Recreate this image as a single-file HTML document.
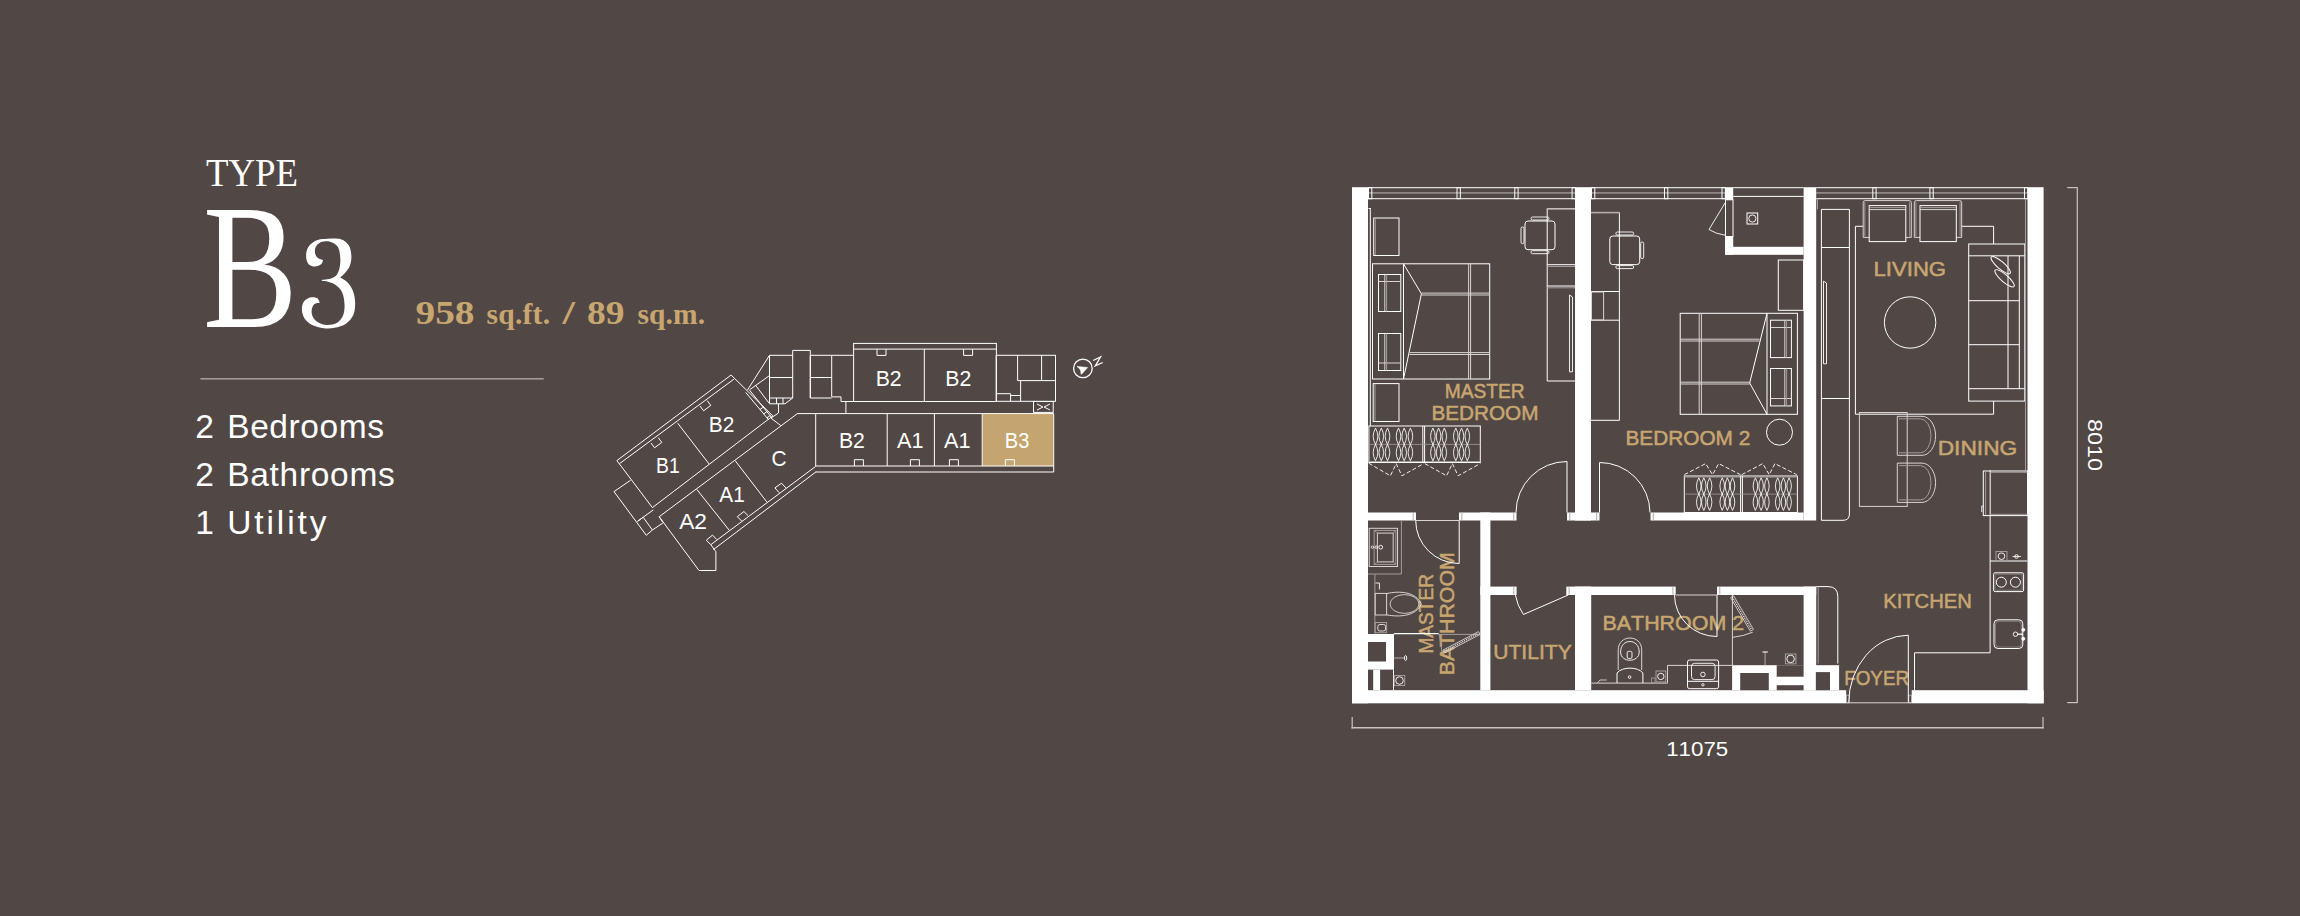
<!DOCTYPE html>
<html><head><meta charset="utf-8"><title>Type B3</title>
<style>
html,body{margin:0;padding:0;background:#514846;width:2300px;height:916px;overflow:hidden;font-family:"Liberation Sans",sans-serif;}
svg{display:block;}
text{font-kerning:none;}
</style></head>
<body>
<svg width="2300" height="916" viewBox="0 0 2300 916">
<rect x="0" y="0" width="2300" height="916" fill="#514846"/>
<text x="206.00" y="185.90" font-family="Liberation Serif" font-size="40.60" font-weight="normal" fill="#ffffff" text-anchor="start" textLength="92.00" lengthAdjust="spacingAndGlyphs" >TYPE</text>
<text x="203.00" y="327.30" font-family="Liberation Serif" font-size="177.00" font-weight="normal" fill="#ffffff" text-anchor="start" textLength="94.50" lengthAdjust="spacingAndGlyphs" >B</text>
<path transform="translate(295,230) scale(0.11456)" fill="#ffffff" d="M245.00,262.00 C242.17,268.00 239.67,288.67 228.00,298.00 C216.33,307.33 193.33,318.00 175.00,318.00 C156.67,318.00 131.00,312.33 118.00,298.00 C105.00,283.67 97.50,256.67 97.00,232.00 C96.50,207.33 99.50,173.67 115.00,150.00 C130.50,126.33 161.67,102.33 190.00,90.00 C218.33,77.67 250.00,77.67 285.00,76.00 C320.00,74.33 369.17,70.17 400.00,80.00 C430.83,89.83 454.67,110.83 470.00,135.00 C485.33,159.17 490.33,195.83 492.00,225.00 C493.67,254.17 488.67,285.50 480.00,310.00 C471.33,334.50 454.17,354.50 440.00,372.00 C425.83,389.50 402.50,407.83 395.00,415.00 L395.00,415.00 C405.00,421.67 436.67,435.83 455.00,455.00 C473.33,474.17 493.33,500.83 505.00,530.00 C516.67,559.17 524.17,595.00 525.00,630.00 C525.83,665.00 523.33,708.67 510.00,740.00 C496.67,771.33 472.50,799.00 445.00,818.00 C417.50,837.00 377.50,847.50 345.00,854.00 C312.50,860.50 282.50,861.00 250.00,857.00 C217.50,853.00 178.00,844.50 150.00,830.00 C122.00,815.50 97.00,793.33 82.00,770.00 C67.00,746.67 60.33,714.67 60.00,690.00 C59.67,665.33 66.67,639.00 80.00,622.00 C93.33,605.00 120.83,592.33 140.00,588.00 C159.17,583.67 182.33,588.33 195.00,596.00 C207.67,603.67 212.50,627.67 216.00,634.00 L216.00,634.00 C208.33,635.83 181.50,635.67 170.00,645.00 C158.50,654.33 150.00,672.50 147.00,690.00 C144.00,707.50 143.17,730.83 152.00,750.00 C160.83,769.17 178.67,791.83 200.00,805.00 C221.33,818.17 252.00,828.17 280.00,829.00 C308.00,829.83 344.67,824.00 368.00,810.00 C391.33,796.00 409.33,771.67 420.00,745.00 C430.67,718.33 433.33,683.33 432.00,650.00 C430.67,616.67 425.33,573.67 412.00,545.00 C398.67,516.33 374.00,493.83 352.00,478.00 C330.00,462.17 298.67,455.33 280.00,450.00 C261.33,444.67 246.67,446.67 240.00,446.00 L234.00,440.00 C235.00,439.00 229.00,436.17 240.00,434.00 C251.00,431.83 280.83,432.33 300.00,427.00 C319.17,421.67 340.33,417.33 355.00,402.00 C369.67,386.67 381.33,362.00 388.00,335.00 C394.67,308.00 397.67,271.67 395.00,240.00 C392.33,208.33 387.00,168.00 372.00,145.00 C357.00,122.00 329.50,108.17 305.00,102.00 C280.50,95.83 245.83,100.00 225.00,108.00 C204.17,116.00 188.17,133.83 180.00,150.00 C171.83,166.17 172.67,189.17 176.00,205.00 C179.33,220.83 188.50,235.50 200.00,245.00 C211.50,254.50 237.50,259.17 245.00,262.00 Z"/>
<text x="415.5" y="323.7" font-family="Liberation Serif" font-size="33.3" font-weight="bold" fill="#c8a670" textLength="59.0" lengthAdjust="spacingAndGlyphs">958</text>
<text x="486.5" y="323.7" font-family="Liberation Serif" font-size="29.5" font-weight="bold" fill="#c8a670" textLength="63.5" lengthAdjust="spacing">sq.ft.</text>
<text x="562.5" y="323.7" font-family="Liberation Serif" font-size="33.3" font-weight="bold" fill="#c8a670" textLength="12.5" lengthAdjust="spacingAndGlyphs">/</text>
<text x="587.0" y="323.7" font-family="Liberation Serif" font-size="33.3" font-weight="bold" fill="#c8a670" textLength="37.5" lengthAdjust="spacingAndGlyphs">89</text>
<text x="637.5" y="323.7" font-family="Liberation Serif" font-size="29.5" font-weight="bold" fill="#c8a670" textLength="67.5" lengthAdjust="spacing">sq.m.</text>
<rect x="200.40" y="378.00" width="343.30" height="1.60" fill="#a29b99" />
<text x="195.2" y="438.4" font-family="Liberation Sans" font-size="33.5" fill="#fff">2</text>
<text x="227.2" y="438.4" font-family="Liberation Sans" font-size="33.5" fill="#fff" textLength="156.8" lengthAdjust="spacing">Bedrooms</text>
<text x="195.2" y="486.3" font-family="Liberation Sans" font-size="33.5" fill="#fff">2</text>
<text x="227.2" y="486.3" font-family="Liberation Sans" font-size="33.5" fill="#fff" textLength="167.6" lengthAdjust="spacing">Bathrooms</text>
<text x="195.2" y="534" font-family="Liberation Sans" font-size="33.5" fill="#fff">1</text>
<text x="227.2" y="534" font-family="Liberation Sans" font-size="33.5" fill="#fff" textLength="99.3" lengthAdjust="spacing">Utility</text>
<rect x="982.30" y="413.60" width="71.00" height="52.50" fill="#c4a46f" />
<rect x="853.60" y="343.40" width="142.80" height="58.10" fill="none" stroke="#ffffff" stroke-width="1" />
<line x1="853.60" y1="349.10" x2="996.40" y2="349.10" stroke="#ffffff" stroke-width="1" />
<line x1="924.30" y1="349.10" x2="924.30" y2="401.50" stroke="#ffffff" stroke-width="1" />
<polyline points="877.00,349.10 877.00,355.40 886.00,355.40 886.00,349.10" fill="none" stroke="#ffffff" stroke-width="1" />
<polyline points="963.60,349.10 963.60,355.40 972.60,355.40 972.60,349.10" fill="none" stroke="#ffffff" stroke-width="1" />
<polyline points="853.60,355.30 831.70,355.30 831.70,396.90 841.00,396.90 841.00,401.50 853.60,401.50" fill="none" stroke="#ffffff" stroke-width="1" />
<polyline points="831.70,355.30 810.30,355.30 810.30,398.00 831.70,398.00" fill="none" stroke="#ffffff" stroke-width="1" />
<line x1="810.30" y1="377.50" x2="831.70" y2="377.50" stroke="#ffffff" stroke-width="1" />
<polyline points="810.30,398.00 810.30,350.40 792.70,350.40 792.70,398.00" fill="none" stroke="#ffffff" stroke-width="1" />
<polyline points="792.70,355.30 769.50,355.30 769.50,403.80 785.00,403.80 792.70,398.00" fill="none" stroke="#ffffff" stroke-width="1" />
<line x1="769.50" y1="377.50" x2="792.70" y2="377.50" stroke="#ffffff" stroke-width="1" />
<line x1="769.50" y1="398.00" x2="792.70" y2="398.00" stroke="#ffffff" stroke-width="1" />
<line x1="776.50" y1="398.00" x2="776.50" y2="403.80" stroke="#ffffff" stroke-width="1" />
<line x1="783.00" y1="398.00" x2="783.00" y2="403.80" stroke="#ffffff" stroke-width="1" />
<line x1="845.90" y1="401.50" x2="845.90" y2="413.40" stroke="#ffffff" stroke-width="1" />
<line x1="778.50" y1="403.80" x2="778.50" y2="413.00" stroke="#ffffff" stroke-width="1" />
<line x1="778.50" y1="413.00" x2="771.00" y2="418.00" stroke="#ffffff" stroke-width="1" />
<line x1="769.50" y1="355.30" x2="747.50" y2="390.00" stroke="#ffffff" stroke-width="1" />
<line x1="769.70" y1="375.40" x2="749.60" y2="389.80" stroke="#ffffff" stroke-width="1" />
<rect x="996.20" y="355.30" width="59.30" height="46.00" fill="none" stroke="#ffffff" stroke-width="1" />
<line x1="1017.60" y1="355.30" x2="1017.60" y2="380.60" stroke="#ffffff" stroke-width="1" />
<line x1="1041.60" y1="355.30" x2="1041.60" y2="380.60" stroke="#ffffff" stroke-width="1" />
<line x1="1017.60" y1="380.60" x2="1055.50" y2="380.60" stroke="#ffffff" stroke-width="1" />
<line x1="1020.60" y1="380.60" x2="1020.60" y2="401.30" stroke="#ffffff" stroke-width="1" />
<polyline points="996.20,393.70 1010.60,393.70 1010.60,401.30" fill="none" stroke="#ffffff" stroke-width="1" />
<polyline points="1010.60,395.50 1020.60,395.50" fill="none" stroke="#ffffff" stroke-width="1" />
<rect x="1033.50" y="401.50" width="19.70" height="10.90" fill="none" stroke="#ffffff" stroke-width="1" />
<line x1="1037.00" y1="404.00" x2="1043.00" y2="407.00" stroke="#ffffff" stroke-width="1" />
<line x1="1037.00" y1="410.00" x2="1043.00" y2="407.00" stroke="#ffffff" stroke-width="1" />
<line x1="1050.00" y1="404.00" x2="1044.00" y2="407.00" stroke="#ffffff" stroke-width="1" />
<line x1="1050.00" y1="410.00" x2="1044.00" y2="407.00" stroke="#ffffff" stroke-width="1" />
<line x1="797.10" y1="413.60" x2="1053.70" y2="413.60" stroke="#ffffff" stroke-width="1" />
<line x1="815.70" y1="413.60" x2="815.70" y2="466.00" stroke="#ffffff" stroke-width="1" />
<line x1="815.70" y1="466.00" x2="1053.70" y2="466.00" stroke="#ffffff" stroke-width="1" />
<line x1="1053.70" y1="413.60" x2="1053.70" y2="472.00" stroke="#ffffff" stroke-width="1" />
<line x1="815.70" y1="472.00" x2="1053.70" y2="472.00" stroke="#ffffff" stroke-width="1" />
<line x1="887.20" y1="413.60" x2="887.20" y2="466.00" stroke="#ffffff" stroke-width="1" />
<line x1="934.40" y1="413.60" x2="934.40" y2="466.00" stroke="#ffffff" stroke-width="1" />
<line x1="982.20" y1="413.60" x2="982.20" y2="466.00" stroke="#ffffff" stroke-width="1" />
<polyline points="854.40,466.00 854.40,459.70 863.40,459.70 863.40,466.00" fill="none" stroke="#ffffff" stroke-width="1" />
<polyline points="910.40,466.00 910.40,459.70 919.40,459.70 919.40,466.00" fill="none" stroke="#ffffff" stroke-width="1" />
<polyline points="949.40,466.00 949.40,459.70 958.40,459.70 958.40,466.00" fill="none" stroke="#ffffff" stroke-width="1" />
<polyline points="1005.40,466.00 1005.40,459.70 1014.40,459.70 1014.40,466.00" fill="none" stroke="#ffffff" stroke-width="1" />
<polyline points="652.40,507.60 616.90,460.60 731.10,375.00 772.80,415.90" fill="none" stroke="#ffffff" stroke-width="1" />
<line x1="619.60" y1="463.60" x2="733.90" y2="379.20" stroke="#ffffff" stroke-width="1" />
<line x1="652.40" y1="507.60" x2="772.80" y2="415.90" stroke="#ffffff" stroke-width="1" />
<line x1="677.70" y1="423.20" x2="709.10" y2="464.00" stroke="#ffffff" stroke-width="1" />
<polyline points="651.00,443.00 654.60,447.80 661.80,442.40 658.20,437.60" fill="none" stroke="#ffffff" stroke-width="1" />
<polyline points="700.00,406.00 703.60,410.80 710.80,405.40 707.20,400.60" fill="none" stroke="#ffffff" stroke-width="1" />
<line x1="659.20" y1="516.70" x2="797.30" y2="413.70" stroke="#ffffff" stroke-width="1" />
<line x1="713.50" y1="549.50" x2="816.20" y2="471.70" stroke="#ffffff" stroke-width="1" />
<line x1="710.80" y1="544.70" x2="815.70" y2="466.40" stroke="#ffffff" stroke-width="1" />
<line x1="696.80" y1="489.40" x2="729.20" y2="530.20" stroke="#ffffff" stroke-width="1" />
<line x1="735.10" y1="460.60" x2="766.80" y2="501.90" stroke="#ffffff" stroke-width="1" />
<polyline points="710.80,544.70 706.30,540.20 712.50,535.10 716.70,539.50" fill="none" stroke="#ffffff" stroke-width="1" />
<polyline points="741.70,521.10 737.30,516.70 743.90,511.50 748.30,515.90" fill="none" stroke="#ffffff" stroke-width="1" />
<polyline points="779.30,492.80 774.90,487.90 781.50,483.20 785.90,487.90" fill="none" stroke="#ffffff" stroke-width="1" />
<polyline points="659.20,516.70 699.00,570.50 715.90,570.50 715.90,551.70 710.80,544.70" fill="none" stroke="#ffffff" stroke-width="1" />
<line x1="659.20" y1="516.70" x2="662.80" y2="522.30" stroke="#ffffff" stroke-width="1" />
<polyline points="630.60,480.20 614.00,491.60 646.30,535.30 652.40,530.00" fill="none" stroke="#ffffff" stroke-width="1" />
<line x1="653.30" y1="509.90" x2="637.50" y2="521.30" stroke="#ffffff" stroke-width="1" />
<line x1="643.20" y1="517.30" x2="652.40" y2="530.00" stroke="#ffffff" stroke-width="1" />
<line x1="652.40" y1="530.00" x2="662.90" y2="523.00" stroke="#ffffff" stroke-width="1" />
<line x1="637.50" y1="521.30" x2="643.20" y2="517.30" stroke="#ffffff" stroke-width="1" />
<line x1="745.70" y1="392.40" x2="768.80" y2="420.00" stroke="#ffffff" stroke-width="1" />
<line x1="749.60" y1="390.20" x2="771.40" y2="417.30" stroke="#ffffff" stroke-width="1" />
<line x1="755.70" y1="385.40" x2="768.80" y2="402.90" stroke="#ffffff" stroke-width="1" />
<line x1="770.90" y1="418.00" x2="780.80" y2="425.60" stroke="#ffffff" stroke-width="1" />
<line x1="760.02" y1="409.51" x2="763.62" y2="406.91" stroke="#ffffff" stroke-width="1" />
<line x1="763.72" y1="413.93" x2="767.32" y2="411.33" stroke="#ffffff" stroke-width="1" />
<line x1="766.95" y1="417.79" x2="770.55" y2="415.19" stroke="#ffffff" stroke-width="1" />
<text x="875.70" y="386.00" font-family="Liberation Sans" font-size="22.09" font-weight="normal" fill="#ffffff" text-anchor="start" textLength="26.00" lengthAdjust="spacingAndGlyphs" >B2</text>
<text x="945.30" y="386.00" font-family="Liberation Sans" font-size="22.09" font-weight="normal" fill="#ffffff" text-anchor="start" textLength="26.00" lengthAdjust="spacingAndGlyphs" >B2</text>
<text x="838.90" y="447.90" font-family="Liberation Sans" font-size="22.09" font-weight="normal" fill="#ffffff" text-anchor="start" textLength="25.90" lengthAdjust="spacingAndGlyphs" >B2</text>
<text x="897.00" y="447.90" font-family="Liberation Sans" font-size="22.09" font-weight="normal" fill="#ffffff" text-anchor="start" textLength="26.50" lengthAdjust="spacingAndGlyphs" >A1</text>
<text x="944.00" y="447.90" font-family="Liberation Sans" font-size="22.09" font-weight="normal" fill="#ffffff" text-anchor="start" textLength="26.50" lengthAdjust="spacingAndGlyphs" >A1</text>
<text x="1004.80" y="448.20" font-family="Liberation Sans" font-size="22.09" font-weight="normal" fill="#ffffff" text-anchor="start" textLength="24.60" lengthAdjust="spacingAndGlyphs" >B3</text>
<text x="771.40" y="465.70" font-family="Liberation Sans" font-size="22.09" font-weight="normal" fill="#ffffff" text-anchor="start" textLength="15.10" lengthAdjust="spacingAndGlyphs" >C</text>
<text x="708.70" y="432.40" font-family="Liberation Sans" font-size="22.09" font-weight="normal" fill="#ffffff" text-anchor="start" textLength="25.60" lengthAdjust="spacingAndGlyphs" >B2</text>
<text x="656.00" y="472.50" font-family="Liberation Sans" font-size="22.09" font-weight="normal" fill="#ffffff" text-anchor="start" textLength="23.70" lengthAdjust="spacingAndGlyphs" >B1</text>
<text x="719.30" y="502.00" font-family="Liberation Sans" font-size="22.09" font-weight="normal" fill="#ffffff" text-anchor="start" textLength="25.40" lengthAdjust="spacingAndGlyphs" >A1</text>
<text x="679.20" y="528.70" font-family="Liberation Sans" font-size="22.09" font-weight="normal" fill="#ffffff" text-anchor="start" textLength="27.80" lengthAdjust="spacingAndGlyphs" >A2</text>
<circle cx="1082.90" cy="368.40" r="9.30" fill="none" stroke="#ffffff" stroke-width="1.3"/>
<polygon points="1077.00,366.40 1087.60,367.60 1081.30,374.40 1080.30,369.60" fill="#ffffff" stroke="#ffffff" stroke-width="0.6" />
<polyline points="1093.10,360.50 1100.50,357.00 1095.30,365.80 1102.70,362.50" fill="none" stroke="#ffffff" stroke-width="1.3" />
<line x1="1368.00" y1="187.70" x2="1575.00" y2="187.70" stroke="#ffffff" stroke-width="1" />
<line x1="1368.00" y1="198.70" x2="1575.00" y2="198.70" stroke="#ffffff" stroke-width="1" />
<line x1="1368.00" y1="192.90" x2="1575.00" y2="192.90" stroke="#8f8785" stroke-width="1.6" />
<line x1="1591.00" y1="187.70" x2="1725.00" y2="187.70" stroke="#ffffff" stroke-width="1" />
<line x1="1591.00" y1="198.70" x2="1725.00" y2="198.70" stroke="#ffffff" stroke-width="1" />
<line x1="1591.00" y1="192.90" x2="1725.00" y2="192.90" stroke="#8f8785" stroke-width="1.6" />
<line x1="1816.20" y1="187.70" x2="2027.50" y2="187.70" stroke="#ffffff" stroke-width="1" />
<line x1="1816.20" y1="198.70" x2="2027.50" y2="198.70" stroke="#ffffff" stroke-width="1" />
<line x1="1816.20" y1="192.90" x2="2027.50" y2="192.90" stroke="#8f8785" stroke-width="1.6" />
<line x1="1733.20" y1="187.70" x2="1803.60" y2="187.70" stroke="#ffffff" stroke-width="1" />
<line x1="1733.20" y1="196.40" x2="1803.60" y2="196.40" stroke="#ffffff" stroke-width="1" />
<rect x="1368.50" y="187.70" width="3.30" height="11.00" fill="none" stroke="#ffffff" stroke-width="1" />
<rect x="1457.00" y="187.70" width="3.30" height="11.00" fill="none" stroke="#ffffff" stroke-width="1" />
<rect x="1514.80" y="187.70" width="3.30" height="11.00" fill="none" stroke="#ffffff" stroke-width="1" />
<rect x="1572.10" y="187.70" width="3.30" height="11.00" fill="none" stroke="#ffffff" stroke-width="1" />
<rect x="1591.50" y="187.70" width="3.30" height="11.00" fill="none" stroke="#ffffff" stroke-width="1" />
<rect x="1664.50" y="187.70" width="3.30" height="11.00" fill="none" stroke="#ffffff" stroke-width="1" />
<rect x="1722.00" y="187.70" width="3.30" height="11.00" fill="none" stroke="#ffffff" stroke-width="1" />
<rect x="1872.80" y="187.70" width="3.30" height="11.00" fill="none" stroke="#ffffff" stroke-width="1" />
<rect x="1929.90" y="187.70" width="3.30" height="11.00" fill="none" stroke="#ffffff" stroke-width="1" />
<rect x="2024.50" y="187.70" width="3.30" height="11.00" fill="none" stroke="#ffffff" stroke-width="1" />
<rect x="1352.00" y="187.20" width="16.00" height="516.10" fill="#ffffff" />
<rect x="2027.50" y="187.20" width="16.10" height="516.10" fill="#ffffff" />
<rect x="1352.00" y="690.20" width="494.20" height="13.10" fill="#ffffff" />
<rect x="1846.60" y="695.20" width="2.60" height="7.60" fill="none" stroke="#bdb6b4" stroke-width="0.8" />
<rect x="1908.80" y="695.20" width="2.60" height="7.60" fill="none" stroke="#bdb6b4" stroke-width="0.8" />
<rect x="1911.70" y="690.20" width="131.90" height="13.10" fill="#ffffff" />
<rect x="1575.00" y="187.20" width="16.00" height="333.30" fill="#ffffff" />
<rect x="1567.00" y="512.50" width="32.50" height="8.00" fill="#ffffff" />
<rect x="1803.60" y="187.20" width="12.60" height="333.30" fill="#ffffff" />
<rect x="1725.00" y="187.20" width="8.20" height="12.60" fill="#ffffff" />
<rect x="1725.00" y="236.50" width="8.20" height="18.30" fill="#ffffff" />
<rect x="1725.00" y="246.80" width="78.60" height="8.00" fill="#ffffff" />
<rect x="1368.00" y="512.50" width="48.00" height="8.00" fill="#ffffff" />
<rect x="1459.00" y="512.50" width="57.50" height="8.00" fill="#ffffff" />
<rect x="1650.50" y="512.50" width="153.10" height="8.00" fill="#ffffff" />
<rect x="1480.30" y="512.50" width="10.10" height="177.70" fill="#ffffff" />
<rect x="1480.30" y="586.60" width="36.30" height="8.40" fill="#ffffff" />
<rect x="1566.30" y="586.60" width="109.40" height="8.40" fill="#ffffff" />
<rect x="1717.00" y="586.60" width="99.20" height="8.40" fill="#ffffff" />
<rect x="1575.00" y="586.60" width="16.20" height="103.60" fill="#ffffff" />
<rect x="1803.60" y="586.60" width="12.60" height="103.60" fill="#ffffff" />
<rect x="1368.00" y="634.00" width="26.00" height="35.60" fill="#ffffff" />
<rect x="1368.00" y="642.00" width="18.00" height="19.50" fill="#514846" />
<rect x="1373.20" y="669.60" width="6.90" height="20.60" fill="#ffffff" />
<line x1="1393.50" y1="669.60" x2="1393.50" y2="690.20" stroke="#ffffff" stroke-width="1" />
<rect x="1732.10" y="665.20" width="107.00" height="25.00" fill="#ffffff" />
<rect x="1740.20" y="673.00" width="28.60" height="17.20" fill="#514846" />
<rect x="1776.70" y="665.20" width="27.50" height="11.50" fill="#514846" />
<rect x="1776.70" y="685.20" width="27.50" height="5.00" fill="#514846" />
<rect x="1815.60" y="672.10" width="14.40" height="18.10" fill="#514846" />
<rect x="1803.60" y="665.20" width="12.00" height="25.00" fill="#ffffff" />
<line x1="1413.20" y1="513.00" x2="1413.20" y2="520.00" stroke="#9c9492" stroke-width="0.8" />
<line x1="1461.80" y1="513.00" x2="1461.80" y2="520.00" stroke="#9c9492" stroke-width="0.8" />
<line x1="1513.70" y1="513.00" x2="1513.70" y2="520.00" stroke="#9c9492" stroke-width="0.8" />
<line x1="1569.80" y1="513.00" x2="1569.80" y2="520.00" stroke="#9c9492" stroke-width="0.8" />
<line x1="1596.70" y1="513.00" x2="1596.70" y2="520.00" stroke="#9c9492" stroke-width="0.8" />
<line x1="1653.30" y1="513.00" x2="1653.30" y2="520.00" stroke="#9c9492" stroke-width="0.8" />
<line x1="1513.80" y1="587.10" x2="1513.80" y2="594.50" stroke="#9c9492" stroke-width="0.8" />
<line x1="1569.10" y1="587.10" x2="1569.10" y2="594.50" stroke="#9c9492" stroke-width="0.8" />
<line x1="1672.90" y1="587.10" x2="1672.90" y2="594.50" stroke="#9c9492" stroke-width="0.8" />
<line x1="1719.80" y1="587.10" x2="1719.80" y2="594.50" stroke="#9c9492" stroke-width="0.8" />
<text x="1444.70" y="397.80" font-family="Liberation Sans" font-size="19.77" font-weight="normal" fill="#c8a670" text-anchor="start" textLength="80.00" lengthAdjust="spacingAndGlyphs" stroke="#c8a670" stroke-width="0.5">MASTER</text>
<text x="1431.40" y="420.10" font-family="Liberation Sans" font-size="19.77" font-weight="normal" fill="#c8a670" text-anchor="start" textLength="107.00" lengthAdjust="spacingAndGlyphs" stroke="#c8a670" stroke-width="0.5">BEDROOM</text>
<text x="1625.50" y="444.80" font-family="Liberation Sans" font-size="19.77" font-weight="normal" fill="#c8a670" text-anchor="start" textLength="124.70" lengthAdjust="spacingAndGlyphs" stroke="#c8a670" stroke-width="0.5">BEDROOM 2</text>
<text x="1873.50" y="276.00" font-family="Liberation Sans" font-size="19.77" font-weight="normal" fill="#c8a670" text-anchor="start" textLength="72.60" lengthAdjust="spacingAndGlyphs" stroke="#c8a670" stroke-width="0.5">LIVING</text>
<text x="1937.70" y="454.50" font-family="Liberation Sans" font-size="19.77" font-weight="normal" fill="#c8a670" text-anchor="start" textLength="79.60" lengthAdjust="spacingAndGlyphs" stroke="#c8a670" stroke-width="0.5">DINING</text>
<text x="1883.20" y="607.60" font-family="Liberation Sans" font-size="19.77" font-weight="normal" fill="#c8a670" text-anchor="start" textLength="88.70" lengthAdjust="spacingAndGlyphs" stroke="#c8a670" stroke-width="0.5">KITCHEN</text>
<text x="1844.20" y="685.00" font-family="Liberation Sans" font-size="19.77" font-weight="normal" fill="#c8a670" text-anchor="start" textLength="64.90" lengthAdjust="spacingAndGlyphs" stroke="#c8a670" stroke-width="0.5">FOYER</text>
<text x="1493.30" y="658.80" font-family="Liberation Sans" font-size="19.77" font-weight="normal" fill="#c8a670" text-anchor="start" textLength="78.40" lengthAdjust="spacingAndGlyphs" stroke="#c8a670" stroke-width="0.5">UTILITY</text>
<text x="1602.50" y="629.90" font-family="Liberation Sans" font-size="19.77" font-weight="normal" fill="#c8a670" text-anchor="start" textLength="141.60" lengthAdjust="spacingAndGlyphs" stroke="#c8a670" stroke-width="0.5">BATHROOM 2</text>
<text transform="translate(1432.5,653.6) rotate(-90)" x="0" y="0" font-family="Liberation Sans" font-size="19.77" fill="#c8a670" stroke="#c8a670" stroke-width="0.5" textLength="79.6" lengthAdjust="spacingAndGlyphs">MASTER</text>
<text transform="translate(1453.6,675.3) rotate(-90)" x="0" y="0" font-family="Liberation Sans" font-size="19.77" fill="#c8a670" stroke="#c8a670" stroke-width="0.5" textLength="123" lengthAdjust="spacingAndGlyphs">BATHROOM</text>
<line x1="1351.50" y1="727.80" x2="2043.60" y2="727.80" stroke="#c9c3c1" stroke-width="1.6" />
<line x1="1352.20" y1="717.00" x2="1352.20" y2="728.50" stroke="#c9c3c1" stroke-width="1.2" />
<line x1="2043.00" y1="717.00" x2="2043.00" y2="728.50" stroke="#c9c3c1" stroke-width="1.2" />
<text x="1666.20" y="756.00" font-family="Liberation Sans" font-size="20.74" font-weight="normal" fill="#ffffff" text-anchor="start" textLength="62.00" lengthAdjust="spacingAndGlyphs" >11075</text>
<line x1="2077.30" y1="187.20" x2="2077.30" y2="703.00" stroke="#c9c3c1" stroke-width="1.2" />
<line x1="2067.20" y1="187.60" x2="2077.30" y2="187.60" stroke="#c9c3c1" stroke-width="1.2" />
<line x1="2067.20" y1="702.60" x2="2077.30" y2="702.60" stroke="#c9c3c1" stroke-width="1.2" />
<text transform="translate(2088.1,419) rotate(90)" x="0" y="0" font-family="Liberation Sans" font-size="20.95" fill="#fff" textLength="52" lengthAdjust="spacingAndGlyphs">8010</text>
<line x1="1370.30" y1="208.50" x2="1370.30" y2="425.80" stroke="#ffffff" stroke-width="1" />
<line x1="1368.50" y1="208.50" x2="1371.00" y2="208.50" stroke="#ffffff" stroke-width="1" />
<rect x="1373.70" y="218.00" width="25.30" height="37.50" fill="none" stroke="#ffffff" stroke-width="1" />
<line x1="1375.30" y1="219.00" x2="1375.30" y2="255.00" stroke="#a39c9a" stroke-width="1" />
<rect x="1372.50" y="263.80" width="117.20" height="115.20" fill="none" stroke="#ffffff" stroke-width="1" />
<line x1="1403.50" y1="263.80" x2="1403.50" y2="379.00" stroke="#ffffff" stroke-width="1" />
<line x1="1468.60" y1="263.80" x2="1468.60" y2="379.00" stroke="#d9d4d2" stroke-width="1" />
<line x1="1470.60" y1="263.80" x2="1470.60" y2="379.00" stroke="#d9d4d2" stroke-width="1" />
<polyline points="1403.50,263.80 1421.40,293.80 1403.50,379.00" fill="none" stroke="#ffffff" stroke-width="1" />
<line x1="1421.40" y1="293.10" x2="1489.70" y2="293.10" stroke="#d9d4d2" stroke-width="1" />
<line x1="1421.40" y1="295.00" x2="1489.70" y2="295.00" stroke="#d9d4d2" stroke-width="1" />
<line x1="1409.50" y1="352.60" x2="1489.70" y2="352.60" stroke="#d9d4d2" stroke-width="1" />
<line x1="1409.50" y1="354.50" x2="1489.70" y2="354.50" stroke="#d9d4d2" stroke-width="1" />
<rect x="1378.50" y="274.50" width="22.30" height="37.00" fill="none" stroke="#ffffff" stroke-width="1" />
<line x1="1378.50" y1="281.50" x2="1400.80" y2="281.50" stroke="#d9d4d2" stroke-width="1" />
<line x1="1384.80" y1="274.50" x2="1384.80" y2="311.50" stroke="#d9d4d2" stroke-width="1" />
<line x1="1386.60" y1="274.50" x2="1386.60" y2="311.50" stroke="#a39c9a" stroke-width="1" />
<rect x="1378.50" y="333.50" width="22.30" height="37.00" fill="none" stroke="#ffffff" stroke-width="1" />
<line x1="1378.50" y1="363.00" x2="1400.80" y2="363.00" stroke="#d9d4d2" stroke-width="1" />
<line x1="1384.80" y1="333.50" x2="1384.80" y2="370.50" stroke="#d9d4d2" stroke-width="1" />
<line x1="1386.60" y1="333.50" x2="1386.60" y2="370.50" stroke="#a39c9a" stroke-width="1" />
<rect x="1373.20" y="383.60" width="25.80" height="37.90" fill="none" stroke="#ffffff" stroke-width="1" />
<line x1="1375.00" y1="384.00" x2="1375.00" y2="421.00" stroke="#a39c9a" stroke-width="1" />
<rect x="1368.90" y="426.00" width="111.40" height="36.50" fill="none" stroke="#ffffff" stroke-width="1" />
<line x1="1368.90" y1="461.50" x2="1480.30" y2="461.50" stroke="#a39c9a" stroke-width="1" />
<line x1="1422.80" y1="426.00" x2="1422.80" y2="462.50" stroke="#ffffff" stroke-width="1" />
<line x1="1424.60" y1="426.00" x2="1424.60" y2="462.50" stroke="#ffffff" stroke-width="1" />
<line x1="1368.90" y1="444.40" x2="1480.30" y2="444.40" stroke="#a39c9a" stroke-width="0.8" />
<path d="M1375.50,428.10 Q1380.10,436.30 1375.50,444.50 Q1370.90,436.30 1375.50,428.10 Z" fill="none" stroke="#ffffff" stroke-width="0.85" />
<path d="M1375.50,444.40 Q1380.10,452.60 1375.50,460.80 Q1370.90,452.60 1375.50,444.40 Z" fill="none" stroke="#ffffff" stroke-width="0.85" />
<path d="M1381.30,428.10 Q1385.90,436.30 1381.30,444.50 Q1376.70,436.30 1381.30,428.10 Z" fill="none" stroke="#ffffff" stroke-width="0.85" />
<path d="M1381.30,444.40 Q1385.90,452.60 1381.30,460.80 Q1376.70,452.60 1381.30,444.40 Z" fill="none" stroke="#ffffff" stroke-width="0.85" />
<path d="M1387.50,428.10 Q1392.10,436.30 1387.50,444.50 Q1382.90,436.30 1387.50,428.10 Z" fill="none" stroke="#ffffff" stroke-width="0.85" />
<path d="M1387.50,444.40 Q1392.10,452.60 1387.50,460.80 Q1382.90,452.60 1387.50,444.40 Z" fill="none" stroke="#ffffff" stroke-width="0.85" />
<path d="M1398.50,428.10 Q1403.10,436.30 1398.50,444.50 Q1393.90,436.30 1398.50,428.10 Z" fill="none" stroke="#ffffff" stroke-width="0.85" />
<path d="M1398.50,444.40 Q1403.10,452.60 1398.50,460.80 Q1393.90,452.60 1398.50,444.40 Z" fill="none" stroke="#ffffff" stroke-width="0.85" />
<path d="M1404.20,428.10 Q1408.80,436.30 1404.20,444.50 Q1399.60,436.30 1404.20,428.10 Z" fill="none" stroke="#ffffff" stroke-width="0.85" />
<path d="M1404.20,444.40 Q1408.80,452.60 1404.20,460.80 Q1399.60,452.60 1404.20,444.40 Z" fill="none" stroke="#ffffff" stroke-width="0.85" />
<path d="M1410.40,428.10 Q1415.00,436.30 1410.40,444.50 Q1405.80,436.30 1410.40,428.10 Z" fill="none" stroke="#ffffff" stroke-width="0.85" />
<path d="M1410.40,444.40 Q1415.00,452.60 1410.40,460.80 Q1405.80,452.60 1410.40,444.40 Z" fill="none" stroke="#ffffff" stroke-width="0.85" />
<path d="M1432.90,428.10 Q1437.50,436.30 1432.90,444.50 Q1428.30,436.30 1432.90,428.10 Z" fill="none" stroke="#ffffff" stroke-width="0.85" />
<path d="M1432.90,444.40 Q1437.50,452.60 1432.90,460.80 Q1428.30,452.60 1432.90,444.40 Z" fill="none" stroke="#ffffff" stroke-width="0.85" />
<path d="M1438.60,428.10 Q1443.20,436.30 1438.60,444.50 Q1434.00,436.30 1438.60,428.10 Z" fill="none" stroke="#ffffff" stroke-width="0.85" />
<path d="M1438.60,444.40 Q1443.20,452.60 1438.60,460.80 Q1434.00,452.60 1438.60,444.40 Z" fill="none" stroke="#ffffff" stroke-width="0.85" />
<path d="M1444.30,428.10 Q1448.90,436.30 1444.30,444.50 Q1439.70,436.30 1444.30,428.10 Z" fill="none" stroke="#ffffff" stroke-width="0.85" />
<path d="M1444.30,444.40 Q1448.90,452.60 1444.30,460.80 Q1439.70,452.60 1444.30,444.40 Z" fill="none" stroke="#ffffff" stroke-width="0.85" />
<path d="M1455.80,428.10 Q1460.40,436.30 1455.80,444.50 Q1451.20,436.30 1455.80,428.10 Z" fill="none" stroke="#ffffff" stroke-width="0.85" />
<path d="M1455.80,444.40 Q1460.40,452.60 1455.80,460.80 Q1451.20,452.60 1455.80,444.40 Z" fill="none" stroke="#ffffff" stroke-width="0.85" />
<path d="M1461.50,428.10 Q1466.10,436.30 1461.50,444.50 Q1456.90,436.30 1461.50,428.10 Z" fill="none" stroke="#ffffff" stroke-width="0.85" />
<path d="M1461.50,444.40 Q1466.10,452.60 1461.50,460.80 Q1456.90,452.60 1461.50,444.40 Z" fill="none" stroke="#ffffff" stroke-width="0.85" />
<path d="M1467.30,428.10 Q1471.90,436.30 1467.30,444.50 Q1462.70,436.30 1467.30,428.10 Z" fill="none" stroke="#ffffff" stroke-width="0.85" />
<path d="M1467.30,444.40 Q1471.90,452.60 1467.30,460.80 Q1462.70,452.60 1467.30,444.40 Z" fill="none" stroke="#ffffff" stroke-width="0.85" />
<polyline points="1368.70,463.20 1390.40,475.80 1396.20,463.60 1401.90,475.80 1423.70,463.60" fill="none" stroke="#ffffff" stroke-width="0.9" stroke-dasharray="4.2 2.2"/>
<polyline points="1424.80,463.60 1446.60,475.80 1452.40,463.60 1458.10,475.80 1480.30,463.60" fill="none" stroke="#ffffff" stroke-width="0.9" stroke-dasharray="4.2 2.2"/>
<polyline points="1547.20,208.50 1547.20,381.00 1575.00,381.00" fill="none" stroke="#ffffff" stroke-width="1" />
<line x1="1547.20" y1="208.80" x2="1575.00" y2="208.80" stroke="#c4bebc" stroke-width="1.6" />
<line x1="1547.20" y1="264.70" x2="1575.00" y2="264.70" stroke="#ffffff" stroke-width="1" />
<line x1="1547.20" y1="266.50" x2="1575.00" y2="266.50" stroke="#a39c9a" stroke-width="1" />
<line x1="1547.20" y1="286.00" x2="1575.00" y2="286.00" stroke="#ffffff" stroke-width="1" />
<line x1="1547.20" y1="287.80" x2="1575.00" y2="287.80" stroke="#a39c9a" stroke-width="1" />
<path d="M1569.5,295 L1572.5,297 L1572.5,371.8 L1569.5,371.8 Z" fill="none" stroke="#ffffff" stroke-width="0.9" />
<rect x="1525.00" y="221.00" width="30.00" height="28.70" rx="3" fill="none" stroke="#ffffff" stroke-width="1"/>
<rect x="1521.00" y="227.00" width="3.00" height="16.70" rx="1.5" fill="none" stroke="#ffffff" stroke-width="0.9"/>
<rect x="1531.00" y="217.00" width="18.00" height="3.00" rx="1.5" fill="none" stroke="#ffffff" stroke-width="0.9"/>
<rect x="1531.00" y="250.70" width="18.00" height="3.00" rx="1.5" fill="none" stroke="#ffffff" stroke-width="0.9"/>
<polyline points="1619.40,212.40 1619.40,420.30 1591.00,420.30" fill="none" stroke="#ffffff" stroke-width="1" />
<line x1="1591.00" y1="212.60" x2="1619.40" y2="212.60" stroke="#b5aeac" stroke-width="1.6" />
<line x1="1591.00" y1="291.50" x2="1619.40" y2="291.50" stroke="#ffffff" stroke-width="1" />
<line x1="1591.00" y1="320.20" x2="1619.40" y2="320.20" stroke="#ffffff" stroke-width="1" />
<rect x="1591.50" y="292.00" width="12.10" height="28.00" fill="none" stroke="#d9d4d2" stroke-width="1" />
<g transform="translate(3253.5,0) scale(-1,1)">
<rect x="1613.80" y="236.00" width="29.90" height="28.60" rx="3" fill="none" stroke="#ffffff" stroke-width="1"/>
<rect x="1609.80" y="242.00" width="3.00" height="16.60" rx="1.5" fill="none" stroke="#ffffff" stroke-width="0.9"/>
<rect x="1619.80" y="232.00" width="17.90" height="3.00" rx="1.5" fill="none" stroke="#ffffff" stroke-width="0.9"/>
<rect x="1619.80" y="265.60" width="17.90" height="3.00" rx="1.5" fill="none" stroke="#ffffff" stroke-width="0.9"/>
</g>
<rect x="1725.50" y="199.80" width="7.50" height="36.70" fill="none" stroke="#ffffff" stroke-width="1" />
<path d="M1725,203 L1709,229.5 Q1716,234 1725,235.2" fill="none" stroke="#ffffff" stroke-width="0.9" />
<rect x="1747.00" y="213.00" width="10.70" height="11.00" fill="none" stroke="#ffffff" stroke-width="1" />
<circle cx="1752.35" cy="218.50" r="3.60" fill="none" stroke="#ffffff" stroke-width="0.9"/>
<rect x="1778.30" y="260.00" width="25.30" height="50.30" fill="none" stroke="#ffffff" stroke-width="1" />
<rect x="1680.20" y="313.30" width="117.20" height="101.00" fill="none" stroke="#ffffff" stroke-width="1" />
<line x1="1699.20" y1="313.30" x2="1699.20" y2="414.30" stroke="#d9d4d2" stroke-width="1" />
<line x1="1701.40" y1="313.30" x2="1701.40" y2="414.30" stroke="#d9d4d2" stroke-width="1" />
<line x1="1767.00" y1="313.30" x2="1767.00" y2="414.30" stroke="#ffffff" stroke-width="1" />
<line x1="1680.20" y1="339.20" x2="1759.50" y2="339.20" stroke="#d9d4d2" stroke-width="1" />
<line x1="1680.20" y1="341.00" x2="1759.50" y2="341.00" stroke="#d9d4d2" stroke-width="1" />
<line x1="1680.20" y1="382.20" x2="1749.70" y2="382.20" stroke="#d9d4d2" stroke-width="1" />
<line x1="1680.20" y1="384.00" x2="1749.70" y2="384.00" stroke="#d9d4d2" stroke-width="1" />
<polyline points="1767.00,313.30 1749.70,383.00 1767.00,414.30" fill="none" stroke="#ffffff" stroke-width="1" />
<rect x="1770.50" y="320.20" width="20.90" height="37.40" fill="none" stroke="#ffffff" stroke-width="1" />
<line x1="1770.50" y1="327.50" x2="1791.40" y2="327.50" stroke="#d9d4d2" stroke-width="1" />
<line x1="1784.80" y1="320.20" x2="1784.80" y2="357.60" stroke="#d9d4d2" stroke-width="1" />
<line x1="1786.60" y1="320.20" x2="1786.60" y2="357.60" stroke="#a39c9a" stroke-width="1" />
<rect x="1770.50" y="368.50" width="20.90" height="37.40" fill="none" stroke="#ffffff" stroke-width="1" />
<line x1="1770.50" y1="398.50" x2="1791.40" y2="398.50" stroke="#d9d4d2" stroke-width="1" />
<line x1="1784.80" y1="368.50" x2="1784.80" y2="405.90" stroke="#d9d4d2" stroke-width="1" />
<line x1="1786.60" y1="368.50" x2="1786.60" y2="405.90" stroke="#a39c9a" stroke-width="1" />
<circle cx="1779.50" cy="432.20" r="13.00" fill="none" stroke="#ffffff" stroke-width="1"/>
<rect x="1684.30" y="476.00" width="113.10" height="36.50" fill="none" stroke="#ffffff" stroke-width="1" />
<line x1="1684.30" y1="477.00" x2="1797.40" y2="477.00" stroke="#a39c9a" stroke-width="1" />
<line x1="1740.60" y1="476.00" x2="1740.60" y2="512.50" stroke="#ffffff" stroke-width="1" />
<line x1="1742.40" y1="476.00" x2="1742.40" y2="512.50" stroke="#ffffff" stroke-width="1" />
<line x1="1684.30" y1="494.10" x2="1797.40" y2="494.10" stroke="#a39c9a" stroke-width="0.8" />
<path d="M1698.80,477.80 Q1703.40,486.00 1698.80,494.20 Q1694.20,486.00 1698.80,477.80 Z" fill="none" stroke="#ffffff" stroke-width="0.85" />
<path d="M1698.80,494.00 Q1703.40,502.20 1698.80,510.40 Q1694.20,502.20 1698.80,494.00 Z" fill="none" stroke="#ffffff" stroke-width="0.85" />
<path d="M1703.80,477.80 Q1708.40,486.00 1703.80,494.20 Q1699.20,486.00 1703.80,477.80 Z" fill="none" stroke="#ffffff" stroke-width="0.85" />
<path d="M1703.80,494.00 Q1708.40,502.20 1703.80,510.40 Q1699.20,502.20 1703.80,494.00 Z" fill="none" stroke="#ffffff" stroke-width="0.85" />
<path d="M1709.60,477.80 Q1714.20,486.00 1709.60,494.20 Q1705.00,486.00 1709.60,477.80 Z" fill="none" stroke="#ffffff" stroke-width="0.85" />
<path d="M1709.60,494.00 Q1714.20,502.20 1709.60,510.40 Q1705.00,502.20 1709.60,494.00 Z" fill="none" stroke="#ffffff" stroke-width="0.85" />
<path d="M1722.20,477.80 Q1726.80,486.00 1722.20,494.20 Q1717.60,486.00 1722.20,477.80 Z" fill="none" stroke="#ffffff" stroke-width="0.85" />
<path d="M1722.20,494.00 Q1726.80,502.20 1722.20,510.40 Q1717.60,502.20 1722.20,494.00 Z" fill="none" stroke="#ffffff" stroke-width="0.85" />
<path d="M1727.40,477.80 Q1732.00,486.00 1727.40,494.20 Q1722.80,486.00 1727.40,477.80 Z" fill="none" stroke="#ffffff" stroke-width="0.85" />
<path d="M1727.40,494.00 Q1732.00,502.20 1727.40,510.40 Q1722.80,502.20 1727.40,494.00 Z" fill="none" stroke="#ffffff" stroke-width="0.85" />
<path d="M1732.50,477.80 Q1737.10,486.00 1732.50,494.20 Q1727.90,486.00 1732.50,477.80 Z" fill="none" stroke="#ffffff" stroke-width="0.85" />
<path d="M1732.50,494.00 Q1737.10,502.20 1732.50,510.40 Q1727.90,502.20 1732.50,494.00 Z" fill="none" stroke="#ffffff" stroke-width="0.85" />
<path d="M1755.40,477.80 Q1760.00,486.00 1755.40,494.20 Q1750.80,486.00 1755.40,477.80 Z" fill="none" stroke="#ffffff" stroke-width="0.85" />
<path d="M1755.40,494.00 Q1760.00,502.20 1755.40,510.40 Q1750.80,502.20 1755.40,494.00 Z" fill="none" stroke="#ffffff" stroke-width="0.85" />
<path d="M1761.10,477.80 Q1765.70,486.00 1761.10,494.20 Q1756.50,486.00 1761.10,477.80 Z" fill="none" stroke="#ffffff" stroke-width="0.85" />
<path d="M1761.10,494.00 Q1765.70,502.20 1761.10,510.40 Q1756.50,502.20 1761.10,494.00 Z" fill="none" stroke="#ffffff" stroke-width="0.85" />
<path d="M1766.90,477.80 Q1771.50,486.00 1766.90,494.20 Q1762.30,486.00 1766.90,477.80 Z" fill="none" stroke="#ffffff" stroke-width="0.85" />
<path d="M1766.90,494.00 Q1771.50,502.20 1766.90,510.40 Q1762.30,502.20 1766.90,494.00 Z" fill="none" stroke="#ffffff" stroke-width="0.85" />
<path d="M1777.70,477.80 Q1782.30,486.00 1777.70,494.20 Q1773.10,486.00 1777.70,477.80 Z" fill="none" stroke="#ffffff" stroke-width="0.85" />
<path d="M1777.70,494.00 Q1782.30,502.20 1777.70,510.40 Q1773.10,502.20 1777.70,494.00 Z" fill="none" stroke="#ffffff" stroke-width="0.85" />
<path d="M1783.40,477.80 Q1788.00,486.00 1783.40,494.20 Q1778.80,486.00 1783.40,477.80 Z" fill="none" stroke="#ffffff" stroke-width="0.85" />
<path d="M1783.40,494.00 Q1788.00,502.20 1783.40,510.40 Q1778.80,502.20 1783.40,494.00 Z" fill="none" stroke="#ffffff" stroke-width="0.85" />
<path d="M1789.10,477.80 Q1793.70,486.00 1789.10,494.20 Q1784.50,486.00 1789.10,477.80 Z" fill="none" stroke="#ffffff" stroke-width="0.85" />
<path d="M1789.10,494.00 Q1793.70,502.20 1789.10,510.40 Q1784.50,502.20 1789.10,494.00 Z" fill="none" stroke="#ffffff" stroke-width="0.85" />
<polyline points="1684.30,474.70 1705.70,463.60 1712.50,474.70 1718.70,463.60 1740.50,474.70" fill="none" stroke="#ffffff" stroke-width="0.9" stroke-dasharray="4.2 2.2"/>
<polyline points="1741.70,474.70 1762.80,463.60 1769.20,474.70 1774.90,463.60 1796.70,474.70" fill="none" stroke="#ffffff" stroke-width="0.9" stroke-dasharray="4.2 2.2"/>
<path d="M1567,461.5 L1567,512.5 M1567,461.5 A51,51 0 0 0 1516,512.5" fill="none" stroke="#ffffff" stroke-width="1" />
<path d="M1599.5,462.5 L1599.5,512.5 M1599.5,462.5 A50.5,50.5 0 0 1 1650,512.5" fill="none" stroke="#ffffff" stroke-width="1" />
<path d="M1459.2,520.5 L1459.2,563.5 M1459.2,563.5 A43.5,43 0 0 1 1415.7,520.5" fill="none" stroke="#ffffff" stroke-width="1" />
<line x1="1416.00" y1="520.50" x2="1459.00" y2="520.50" stroke="#d9d4d2" stroke-width="1" />
<path d="M1568.2,595 L1523.4,614.5 A49,49 0 0 1 1515.4,595" fill="none" stroke="#ffffff" stroke-width="1" />
<path d="M1717,595 L1717,636.5 A42.5,41.5 0 0 1 1674.5,595" fill="none" stroke="#ffffff" stroke-width="1" />
<line x1="1675.70" y1="595.00" x2="1717.00" y2="595.00" stroke="#d9d4d2" stroke-width="1" />
<path d="M1908.3,635.2 L1908.3,702.8 M1908.3,635.2 A60,67.6 0 0 0 1848.7,702.8" fill="none" stroke="#ffffff" stroke-width="1" />
<line x1="1846.50" y1="702.80" x2="1911.50" y2="702.80" stroke="#d9d4d2" stroke-width="1" />
<polyline points="1401.40,520.50 1401.40,574.00 1368.00,574.00" fill="none" stroke="#a39c9a" stroke-width="1" />
<rect x="1369.20" y="528.30" width="28.30" height="38.20" fill="none" stroke="#d9d4d2" stroke-width="1" />
<rect x="1374.20" y="530.40" width="21.60" height="34.00" fill="none" stroke="#a39c9a" stroke-width="1" />
<rect x="1377.40" y="533.10" width="15.80" height="28.80" fill="none" stroke="#d9d4d2" stroke-width="1" />
<line x1="1374.20" y1="530.40" x2="1377.40" y2="533.10" stroke="#a39c9a" stroke-width="0.8" />
<line x1="1395.80" y1="530.40" x2="1393.20" y2="533.10" stroke="#a39c9a" stroke-width="0.8" />
<line x1="1374.20" y1="564.40" x2="1377.40" y2="561.90" stroke="#a39c9a" stroke-width="0.8" />
<line x1="1395.80" y1="564.40" x2="1393.20" y2="561.90" stroke="#a39c9a" stroke-width="0.8" />
<circle cx="1372.40" cy="547.20" r="1.20" fill="none" stroke="#ffffff" stroke-width="0.8"/>
<circle cx="1376.20" cy="547.20" r="1.20" fill="none" stroke="#ffffff" stroke-width="0.8"/>
<circle cx="1380.70" cy="547.20" r="1.90" fill="none" stroke="#ffffff" stroke-width="0.9"/>
<line x1="1374.90" y1="574.00" x2="1374.90" y2="633.50" stroke="#a39c9a" stroke-width="1" />
<rect x="1375.20" y="593.40" width="11.40" height="21.60" fill="none" stroke="#d9d4d2" stroke-width="1" />
<path d="M1386.6,593.6 C1400,590.5 1416,592 1421.3,604 C1416,616 1400,617.5 1386.6,614.8" fill="none" stroke="#d9d4d2" stroke-width="1" />
<ellipse cx="1404.50" cy="604.00" rx="14.50" ry="9.40" fill="none" stroke="#d9d4d2" stroke-width="0.9" transform="rotate(0 1404.50 604.00)"/>
<polyline points="1375.50,583.00 1379.40,583.00 1379.40,589.40" fill="none" stroke="#ffffff" stroke-width="0.9" />
<rect x="1375.20" y="622.50" width="11.40" height="10.20" fill="none" stroke="#a39c9a" stroke-width="1" />
<rect x="1377.80" y="624.50" width="7.80" height="6.50" rx="2" fill="none" stroke="#ffffff" stroke-width="0.8"/>
<line x1="1393.80" y1="633.60" x2="1438.80" y2="633.60" stroke="#ffffff" stroke-width="1.2" />
<line x1="1438.80" y1="634.40" x2="1480.30" y2="634.40" stroke="#a39c9a" stroke-width="1" />
<polyline points="1438.80,633.60 1439.50,636.00 1442.00,652.00" fill="none" stroke="#a39c9a" stroke-width="1" />
<g transform="translate(1461.5,642.3) rotate(-27.5)">
<rect x="-20.00" y="-1.60" width="40.00" height="3.20" fill="none" stroke="#d9d4d2" stroke-width="0.8" />
<line x1="-19" y1="0" x2="19" y2="0" stroke="#ffffff" stroke-width="1.2" stroke-dasharray="1 1"/>
</g>
<line x1="1393.80" y1="658.00" x2="1404.50" y2="658.00" stroke="#a39c9a" stroke-width="1.2" />
<ellipse cx="1405.60" cy="658.00" rx="1.10" ry="2.50" fill="none" stroke="#ffffff" stroke-width="0.9" transform="rotate(0 1405.60 658.00)"/>
<rect x="1394.30" y="675.50" width="10.40" height="10.00" fill="none" stroke="#a39c9a" stroke-width="1" />
<circle cx="1399.50" cy="680.50" r="3.80" fill="none" stroke="#ffffff" stroke-width="0.9"/>
<polyline points="1591.20,683.10 1667.50,683.10 1667.50,665.40 1732.10,665.40" fill="none" stroke="#d9d4d2" stroke-width="1" />
<path d="M1618.2,670 L1618.2,650 C1618.2,634 1641.7,634 1641.7,650 L1641.7,670" fill="none" stroke="#d9d4d2" stroke-width="1" />
<path d="M1620.6,652 C1620.6,638 1639.2,638 1639.2,652 C1639.2,663 1620.6,663 1620.6,652 Z" fill="none" stroke="#ffffff" stroke-width="0.9" />
<rect x="1627.20" y="651.30" width="4.80" height="7.20" rx="1.5" fill="none" stroke="#ffffff" stroke-width="0.9"/>
<path d="M1617,683.1 L1617,673 C1622,666.5 1638,666.5 1642.9,673 L1642.9,683.1" fill="none" stroke="#ffffff" stroke-width="1" />
<circle cx="1629.60" cy="677.10" r="1.30" fill="none" stroke="#ffffff" stroke-width="0.9"/>
<polyline points="1597.40,683.00 1600.00,680.00 1606.80,680.00" fill="none" stroke="#d9d4d2" stroke-width="0.9" />
<rect x="1656.00" y="671.00" width="9.70" height="10.90" fill="none" stroke="#a39c9a" stroke-width="1" />
<circle cx="1660.80" cy="676.40" r="3.20" fill="none" stroke="#ffffff" stroke-width="0.9"/>
<rect x="1651.50" y="678.00" width="3.50" height="4.50" fill="none" stroke="#a39c9a" stroke-width="0.8" />
<rect x="1687.50" y="660.00" width="31.10" height="28.70" rx="2" fill="none" stroke="#ffffff" stroke-width="1"/>
<rect x="1691.50" y="663.30" width="23.60" height="16.30" rx="3" fill="none" stroke="#ffffff" stroke-width="0.9"/>
<line x1="1687.50" y1="681.30" x2="1718.60" y2="681.30" stroke="#ffffff" stroke-width="1" />
<circle cx="1702.90" cy="674.50" r="2.30" fill="none" stroke="#ffffff" stroke-width="0.9"/>
<circle cx="1702.90" cy="684.80" r="1.20" fill="none" stroke="#ffffff" stroke-width="0.9"/>
<line x1="1732.40" y1="595.00" x2="1732.40" y2="665.20" stroke="#d9d4d2" stroke-width="1" />
<path d="M1732.4,637.4 Q1744,636 1752.7,632.2" fill="none" stroke="#d9d4d2" stroke-width="1" />
<g transform="translate(1742,613.5) rotate(59.5)">
<rect x="-19.50" y="-1.80" width="39.00" height="3.60" fill="none" stroke="#d9d4d2" stroke-width="0.8" />
<line x1="-19" y1="0" x2="19" y2="0" stroke="#ffffff" stroke-width="1.2" stroke-dasharray="1 1"/>
</g>
<line x1="1765.10" y1="652.50" x2="1765.10" y2="665.00" stroke="#a39c9a" stroke-width="1.2" />
<line x1="1762.50" y1="652.00" x2="1767.80" y2="652.00" stroke="#ffffff" stroke-width="1.1" />
<rect x="1785.40" y="654.00" width="10.50" height="9.80" fill="none" stroke="#a39c9a" stroke-width="1" />
<circle cx="1790.60" cy="658.90" r="3.80" fill="none" stroke="#ffffff" stroke-width="0.9"/>
<line x1="1821.40" y1="209.40" x2="1821.40" y2="520.30" stroke="#ffffff" stroke-width="1" />
<line x1="1817.50" y1="198.70" x2="1817.50" y2="209.40" stroke="#a39c9a" stroke-width="1" />
<path d="M1821.4,209.4 L1849.4,209.4 L1849.4,514 Q1849.4,520.3 1843,520.3 L1821.4,520.3" fill="none" stroke="#ffffff" stroke-width="1" />
<line x1="1821.40" y1="247.50" x2="1849.40" y2="247.50" stroke="#ffffff" stroke-width="1" />
<line x1="1821.40" y1="398.50" x2="1849.40" y2="398.50" stroke="#ffffff" stroke-width="1" />
<path d="M1823.5,281.2 L1826.5,283 L1826.5,363.8 L1823.5,363.8 Z" fill="none" stroke="#ffffff" stroke-width="0.9" />
<polyline points="1863.20,226.30 1855.40,226.30 1855.40,414.20 1993.60,414.20 1993.60,401.10" fill="none" stroke="#ffffff" stroke-width="1" />
<polyline points="1961.70,226.30 1993.60,226.30 1993.60,244.00" fill="none" stroke="#ffffff" stroke-width="1" />
<path d="M1863.2,237.4 L1863.2,202.5 Q1863.2,200.6 1865.2,200.6 L1909.3,200.6 Q1911.3,200.6 1911.3,202.5 L1911.3,237.4 L1905.8,237.4 M1863.2,237.4 L1869.2,237.4" fill="none" stroke="#d9d4d2" stroke-width="1" />
<rect x="1869.20" y="205.60" width="36.60" height="36.00" fill="none" stroke="#ffffff" stroke-width="1" />
<line x1="1869.20" y1="209.60" x2="1905.80" y2="209.60" stroke="#d9d4d2" stroke-width="1" />
<line x1="1869.70" y1="207.60" x2="1905.30" y2="207.60" stroke="#a39c9a" stroke-width="1" />
<line x1="1864.80" y1="202.00" x2="1864.80" y2="236.50" stroke="#a39c9a" stroke-width="1" />
<line x1="1909.70" y1="202.00" x2="1909.70" y2="236.50" stroke="#a39c9a" stroke-width="1" />
<path d="M1914.3,237.4 L1914.3,202.5 Q1914.3,200.6 1916.3,200.6 L1959.7,200.6 Q1961.7,200.6 1961.7,202.5 L1961.7,237.4 L1956.3,237.4 M1914.3,237.4 L1920,237.4" fill="none" stroke="#d9d4d2" stroke-width="1" />
<rect x="1920.00" y="205.60" width="36.30" height="36.00" fill="none" stroke="#ffffff" stroke-width="1" />
<line x1="1920.00" y1="209.60" x2="1956.30" y2="209.60" stroke="#d9d4d2" stroke-width="1" />
<line x1="1920.50" y1="207.60" x2="1955.80" y2="207.60" stroke="#a39c9a" stroke-width="1" />
<line x1="1915.90" y1="202.00" x2="1915.90" y2="236.50" stroke="#a39c9a" stroke-width="1" />
<line x1="1960.10" y1="202.00" x2="1960.10" y2="236.50" stroke="#a39c9a" stroke-width="1" />
<rect x="1968.70" y="244.00" width="56.10" height="157.10" fill="none" stroke="#ffffff" stroke-width="1" />
<line x1="1968.70" y1="255.80" x2="2024.80" y2="255.80" stroke="#ffffff" stroke-width="1" />
<line x1="1968.70" y1="388.70" x2="2024.80" y2="388.70" stroke="#ffffff" stroke-width="1" />
<line x1="1968.70" y1="300.70" x2="2019.30" y2="300.70" stroke="#ffffff" stroke-width="1" />
<line x1="1968.70" y1="344.70" x2="2019.30" y2="344.70" stroke="#ffffff" stroke-width="1" />
<line x1="2008.00" y1="255.80" x2="2008.00" y2="388.70" stroke="#ffffff" stroke-width="1" />
<line x1="2019.30" y1="255.80" x2="2019.30" y2="388.70" stroke="#ffffff" stroke-width="1" />
<ellipse cx="2000.70" cy="265.20" rx="12.50" ry="3.60" fill="none" stroke="#ffffff" stroke-width="1" transform="rotate(41 2000.70 265.20)"/>
<ellipse cx="2004.60" cy="278.30" rx="12.50" ry="3.60" fill="none" stroke="#ffffff" stroke-width="1" transform="rotate(41 2004.60 278.30)"/>
<line x1="2025.50" y1="198.70" x2="2025.50" y2="470.20" stroke="#a39c9a" stroke-width="1" />
<circle cx="1910.10" cy="322.50" r="25.70" fill="none" stroke="#ffffff" stroke-width="1"/>
<rect x="1859.40" y="412.50" width="47.80" height="93.90" fill="none" stroke="#d9d4d2" stroke-width="1" />
<path d="M1897.3,416.3 L1922,416.3 A13.6,19.5 0 0 1 1922,455.3 L1897.3,455.3 Z" fill="none" stroke="#d9d4d2" stroke-width="1" />
<path d="M1899,418.8 L1920.5,418.8 A10.5,17.0 0 0 1 1920.5,452.8 L1899,452.8" fill="none" stroke="#a39c9a" stroke-width="1" />
<path d="M1897.3,463.1 L1922,463.1 A13.6,19.649999999999977 0 0 1 1922,502.4 L1897.3,502.4 Z" fill="none" stroke="#d9d4d2" stroke-width="1" />
<path d="M1899,465.6 L1920.5,465.6 A10.5,17.149999999999977 0 0 1 1920.5,499.9 L1899,499.9" fill="none" stroke="#a39c9a" stroke-width="1" />
<rect x="1983.30" y="471.00" width="44.20" height="44.60" fill="none" stroke="#ffffff" stroke-width="1" />
<line x1="1990.20" y1="470.20" x2="1990.20" y2="517.50" stroke="#ffffff" stroke-width="1" />
<line x1="1985.60" y1="471.50" x2="1985.60" y2="515.00" stroke="#a39c9a" stroke-width="1" />
<line x1="1990.20" y1="472.30" x2="2027.50" y2="472.30" stroke="#a39c9a" stroke-width="1" />
<line x1="1990.20" y1="514.30" x2="2027.50" y2="514.30" stroke="#a39c9a" stroke-width="1" />
<polyline points="1983.30,506.00 1981.80,506.00 1981.80,512.00" fill="none" stroke="#ffffff" stroke-width="0.9" />
<polyline points="1990.10,517.50 1990.10,652.80 1914.50,652.80 1914.50,690.20" fill="none" stroke="#ffffff" stroke-width="1" />
<line x1="1990.10" y1="561.00" x2="2027.50" y2="561.00" stroke="#ffffff" stroke-width="1" />
<rect x="1996.00" y="551.50" width="11.00" height="9.50" fill="none" stroke="#a39c9a" stroke-width="1" />
<circle cx="2001.50" cy="556.20" r="3.30" fill="none" stroke="#ffffff" stroke-width="0.9"/>
<circle cx="2016.50" cy="556.50" r="1.80" fill="none" stroke="#ffffff" stroke-width="0.9"/>
<line x1="2012.50" y1="556.50" x2="2021.00" y2="556.50" stroke="#ffffff" stroke-width="0.8" />
<rect x="1993.60" y="572.80" width="30.00" height="18.80" rx="1.5" fill="none" stroke="#ffffff" stroke-width="1"/>
<rect x="1995.00" y="574.20" width="27.20" height="16.00" rx="1" fill="none" stroke="#a39c9a" stroke-width="0.6"/>
<circle cx="2001.30" cy="582.20" r="5.00" fill="none" stroke="#ffffff" stroke-width="1"/>
<circle cx="2015.40" cy="582.20" r="5.00" fill="none" stroke="#ffffff" stroke-width="1"/>
<rect x="1994.00" y="619.80" width="28.80" height="28.70" rx="4" fill="none" stroke="#ffffff" stroke-width="1"/>
<rect x="1995.50" y="621.30" width="25.80" height="25.70" rx="3.5" fill="none" stroke="#a39c9a" stroke-width="0.6"/>
<circle cx="2015.50" cy="634.20" r="2.20" fill="none" stroke="#ffffff" stroke-width="0.9"/>
<line x1="2017.50" y1="634.20" x2="2023.00" y2="634.20" stroke="#ffffff" stroke-width="1.2" />
<circle cx="2023.30" cy="629.80" r="1.50" fill="#ffffff" stroke="#ffffff" stroke-width="0.9"/>
<circle cx="2023.30" cy="638.80" r="1.50" fill="#ffffff" stroke="#ffffff" stroke-width="0.9"/>
<path d="M1816.2,586.6 L1828,586.6 Q1837.8,586.6 1837.8,596.5 L1837.8,663.6" fill="none" stroke="#ffffff" stroke-width="1" />
<line x1="1818.20" y1="586.60" x2="1818.20" y2="663.60" stroke="#a39c9a" stroke-width="1" />
</svg>
</body></html>
